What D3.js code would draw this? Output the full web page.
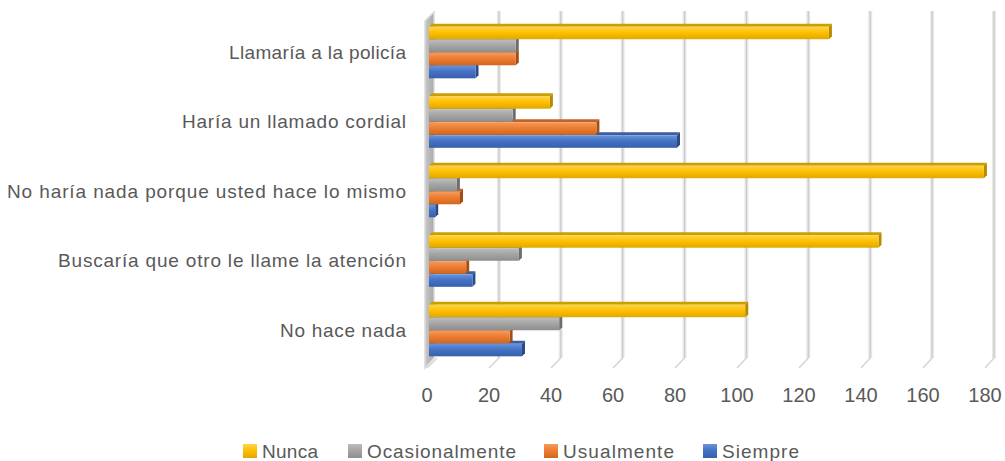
<!DOCTYPE html>
<html><head><meta charset="utf-8">
<script src="https://cdn.jsdelivr.net/npm/d3@7"></script>
<style>body{margin:0;background:#fff}svg{display:block}</style>
</head><body>
<svg id="c" width="1005" height="461"></svg>
<script>
const categories = ["Llamaría a la policía","Haría un llamado cordial","No haría nada porque usted hace lo mismo","Buscaría que otro le llame la atención","No hace nada"];
const seriesNames = ["Nunca","Ocasionalmente","Usualmente","Siempre"];
const nunca = [129,39,179,145,102];
const ocasionalmente = [28,27,9,29,42];
const usualmente = [28,54,10,12,26];
const siempre = [15,80,2,14,30];
const tickValues = [0,20,40,60,80,100,120,140,160,180];
const labelWidths = [177,224,399,348,126];
const legendWidths = [56,149,111,77];

const seriesValues = [nunca, ocasionalmente, usualmente, siempre];
const colors = [
  {top:"#FFD34D", mid:"#FFC000", bot:"#E0A800", cap:"#B88A00", face:"#C9A000"},
  {top:"#BDBDBD", mid:"#A5A5A5", bot:"#8E8E8E", cap:"#6E6E6E", face:"#8A8A8A"},
  {top:"#F59A5C", mid:"#ED7D31", bot:"#D2661E", cap:"#A14E16", face:"#C0652A"},
  {top:"#6A93DC", mid:"#4472C4", bot:"#3760AD", cap:"#2A4A88", face:"#3A5EA0"}
];
const FONT = "'Liberation Sans', Arial, sans-serif";
const TXT = "#595959";

const svg = d3.select("#c");
const defs = svg.append("defs");
colors.forEach((c,i)=>{
  const g = defs.append("linearGradient").attr("id","g"+i).attr("x1",0).attr("y1",0).attr("x2",0).attr("y2",1);
  g.append("stop").attr("offset","0%").attr("stop-color",c.top);
  g.append("stop").attr("offset","45%").attr("stop-color",c.mid);
  g.append("stop").attr("offset","100%").attr("stop-color",c.bot);
});
const wg = defs.append("linearGradient").attr("id","wall").attr("x1",0).attr("y1",0).attr("x2",1).attr("y2",0);
wg.append("stop").attr("offset","0%").attr("stop-color","#c8c8c8");
wg.append("stop").attr("offset","100%").attr("stop-color","#a8a8a8");

// scales
const x = d3.scaleLinear().domain([0,180]).range([429,987]);
const xFront = d3.scaleLinear().domain([0,180]).range([427,985]);
const xBack = d3.scaleLinear().domain([0,180]).range([437,994]);
const y = d3.scaleBand().domain(categories).range([15,362.5]).paddingInner(0.25).paddingOuter(0.125);
const ys = d3.scaleBand().domain(seriesNames).range([0,y.bandwidth()]);

const floorBack = 358, floorFront = 368, topY = 11;

// gridlines
const grid = svg.append("g");
tickValues.filter(v=>v>0).forEach(v=>{
  grid.append("line").attr("x1",xBack(v)).attr("x2",xBack(v)).attr("y1",topY).attr("y2",floorBack)
    .attr("stroke","#e8e8e8").attr("stroke-width",4);
  grid.append("line").attr("x1",xBack(v)).attr("x2",xBack(v)).attr("y1",topY).attr("y2",floorBack)
    .attr("stroke","#cacaca").attr("stroke-width",1.2);
});
tickValues.forEach(v=>{
  grid.append("line").attr("x1",xBack(v)).attr("y1",floorBack).attr("x2",xFront(v)).attr("y2",floorFront)
    .attr("stroke","#d4d4d4").attr("stroke-width",1.5);
});
// left wall
svg.append("polygon")
  .attr("points",[[425,21],[434,12],[434,floorBack],[425,floorFront]].map(p=>p.join(",")).join(" "))
  .attr("fill","url(#wall)").attr("stroke","#d9d9d9").attr("stroke-width",1.5);

// bars
const d = 3;
const bars = svg.append("g");
categories.forEach((cat,ci)=>{
  for(let si=seriesNames.length-1; si>=0; si--){
    const v = seriesValues[si][ci];
    const c = colors[si];
    const x0 = x(0), x1 = x(v);
    const yy = y(cat) + ys(seriesNames[si]) + d;
    const h = ys.bandwidth() - 0.5;
    const gb = bars.append("g");
    gb.append("polygon")
      .attr("points",[[x0,yy],[x0+d,yy-d],[x1+d,yy-d],[x1,yy]].map(p=>p.join(",")).join(" "))
      .attr("fill",c.face);
    gb.append("polygon")
      .attr("points",[[x1,yy],[x1+d,yy-d],[x1+d,yy+h-d],[x1,yy+h]].map(p=>p.join(",")).join(" "))
      .attr("fill",c.cap);
    gb.append("rect").attr("x",x0).attr("y",yy).attr("width",Math.max(0,x1-x0)).attr("height",h)
      .attr("fill","url(#g"+si+")");
  }
});

// category labels
svg.append("g").selectAll("text").data(categories).join("text")
  .attr("x",406).attr("y",c=>y(c)+y.bandwidth()/2+9)
  .attr("text-anchor","end").attr("font-family",FONT).attr("font-size",19).attr("fill",TXT)
  .attr("textLength",(c,i)=>labelWidths[i]).attr("lengthAdjust","spacing")
  .text(c=>c);

// x tick labels
svg.append("g").selectAll("text").data(tickValues).join("text")
  .attr("x",v=>xFront(v)).attr("y",402).attr("text-anchor","middle")
  .attr("font-family",FONT).attr("font-size",20).attr("fill",TXT)
  .text(v=>v);

// legend
const legendX = [243,348,544,703];
const lg = svg.append("g");
seriesNames.forEach((s,i)=>{
  lg.append("rect").attr("x",legendX[i]).attr("y",444).attr("width",14).attr("height",14).attr("fill","url(#g"+i+")");
  lg.append("text").attr("x",legendX[i]+19).attr("y",458).attr("font-family",FONT).attr("font-size",19)
    .attr("fill",TXT).attr("textLength",legendWidths[i]).attr("lengthAdjust","spacing").text(s);
});
</script>
</body></html>
